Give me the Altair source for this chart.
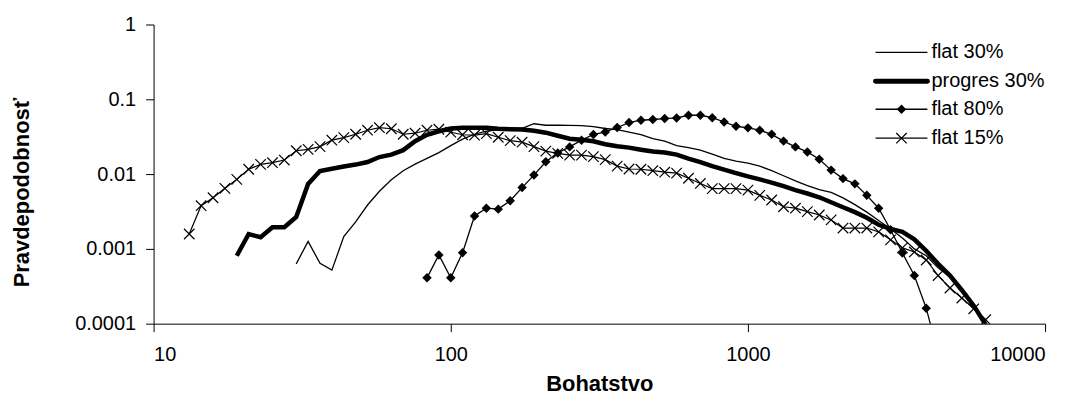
import altair as alt
import pandas as pd

# Wealth bins (x axis, log scale)
wealth = [13.18, 14.45, 15.85, 17.38, 19.05, 20.89, 22.91, 25.12, 27.54, 30.20,
          33.11, 36.31, 39.81, 43.65, 47.86, 52.48, 57.54, 63.10, 69.18, 75.86,
          83.18, 91.20, 100.0, 109.6, 120.2, 131.8, 144.5, 158.5, 173.8, 190.5,
          208.9, 229.1, 251.2, 275.4, 302.0, 331.1, 363.1, 398.1, 436.5, 478.6,
          524.8, 575.4, 631.0, 691.8, 758.6, 831.8, 912.0, 1000, 1096, 1202,
          1318, 1445, 1585, 1738, 1905, 2089, 2291, 2512, 2754, 3020,
          3311, 3631, 3981, 4365, 4786, 5248, 5754, 6310]

flat30_start = 9
flat30 = [0.00063, 0.00126, 0.00064, 0.00052, 0.00146, 0.0023, 0.00386, 0.0059, 0.0084, 0.0111,
          0.0136, 0.0162, 0.0194, 0.024, 0.0293, 0.0341, 0.0374, 0.0394, 0.0407, 0.041,
          0.0471, 0.045, 0.045, 0.0447, 0.0445, 0.043, 0.0407, 0.0392, 0.0363, 0.0336,
          0.0297, 0.0275, 0.024, 0.0226, 0.0209, 0.0185, 0.0162, 0.0149, 0.014, 0.0128,
          0.0111, 0.0095, 0.0081, 0.007, 0.0062, 0.0057, 0.0048, 0.0039, 0.0031, 0.0024,
          0.00185, 0.0014, 0.001, 0.00081, 0.00056, 0.00042, 0.00027, 0.000163, 0.000097]

progres30_start = 4
progres30 = [0.00081, 0.00158, 0.00143, 0.00195, 0.00195, 0.00267,
             0.0074, 0.011, 0.0118, 0.0126, 0.0134, 0.0145, 0.0169, 0.0182, 0.0209, 0.0275,
             0.0336, 0.0374, 0.0407, 0.0417, 0.0417, 0.0415, 0.0404, 0.0398, 0.0395, 0.038,
             0.0358, 0.0326, 0.0297, 0.0288, 0.0275, 0.0251, 0.0236, 0.0226, 0.0212, 0.02,
             0.0194, 0.0182, 0.0161, 0.0145, 0.0128, 0.0115, 0.0103, 0.0093, 0.0085, 0.0077,
             0.0069, 0.0061, 0.0055, 0.0049, 0.0042, 0.0036, 0.0031, 0.0026, 0.0021, 0.00185,
             0.00169, 0.00134, 0.00094, 0.00063, 0.00044, 0.00028, 0.000174, 0.000097]

flat80_start = 20
flat80 = [0.00041, 0.00083, 0.00041, 0.00089, 0.00275, 0.0035, 0.0034, 0.0044, 0.0066, 0.0097,
          0.0146, 0.0192, 0.0231, 0.0284, 0.0338, 0.0366, 0.042, 0.0489, 0.0525, 0.0537,
          0.0552, 0.0563, 0.0612, 0.0612, 0.0567, 0.0497, 0.0436, 0.0415, 0.0386, 0.034,
          0.0276, 0.0231, 0.0198, 0.0158, 0.0113, 0.0087, 0.0074, 0.0052, 0.0035, 0.0018,
          0.00088, 0.00044, 0.000161, 0.00004]

flat15_start = 0
flat15 = [0.00158, 0.00378, 0.00483, 0.00645, 0.0085, 0.0116, 0.0135, 0.0142, 0.0154, 0.0205,
          0.0214, 0.0233, 0.0284, 0.0307, 0.0341, 0.0386, 0.0417, 0.0404, 0.0341, 0.0352,
          0.0386, 0.0398, 0.0363, 0.0336, 0.0331, 0.0347, 0.0311, 0.028, 0.0267, 0.0233,
          0.0203, 0.0189, 0.0179, 0.0179, 0.0171, 0.0156, 0.0128, 0.0117, 0.0116, 0.0111,
          0.0106, 0.0103, 0.0088, 0.0075, 0.0064, 0.0064, 0.0064, 0.0061, 0.0052, 0.0045,
          0.00366, 0.0035, 0.00315, 0.00284, 0.00244, 0.0019, 0.0019, 0.0019, 0.00169, 0.00132,
          0.00103, 0.00091, 0.00071, 0.00044, 0.0003, 0.00022, 0.000158, 0.000113]

series_names = ["flat 30%", "progres 30%", "flat 80%", "flat 15%"]
x_ticks = [10, 100, 1000, 10000]
y_ticks = [0.0001, 0.001, 0.01, 0.1, 1]

rows = []
for name, start, vals in [(series_names[0], flat30_start, flat30),
                          (series_names[1], progres30_start, progres30),
                          (series_names[2], flat80_start, flat80),
                          (series_names[3], flat15_start, flat15)]:
    for i, v in enumerate(vals):
        rows.append({"series": name, "x": wealth[start + i], "y": v, "ord": i})
df = pd.DataFrame(rows)

FONT = "Liberation Sans"

xenc = alt.X("x:Q",
             scale=alt.Scale(type="log", domain=[10, 10000], nice=False),
             axis=alt.Axis(title="Bohatstvo", values=x_ticks, format="d",
                           labelFontSize=20, labelPadding=13, tickSize=8,
                           titleFontSize=22, titleFontWeight="bold",
                           titleY=60, titleBaseline="middle"))
yenc = alt.Y("y:Q",
             scale=alt.Scale(type="log", domain=[0.0001, 1], nice=False),
             axis=alt.Axis(title="Pravdepodobnosť", values=y_ticks, format="~g",
                           labelFontSize=20, labelPadding=10, tickSize=8,
                           titleFontSize=22, titleFontWeight="bold",
                           titleX=-132, titleY=168, titleAngle=270,
                           titleAlign="center", titleBaseline="middle"))

base = alt.Chart(df)

def sel(name):
    return base.transform_filter(alt.datum.series == name)

xpath = "M-1,-1L1,1M-1,1L1,-1"

l_flat30 = sel("flat 30%").mark_line(color="black", strokeWidth=1.3, clip=True).encode(x=xenc, y=yenc, order="ord:Q")
l_prog = sel("progres 30%").mark_line(color="black", strokeWidth=4.5, clip=True).encode(x=xenc, y=yenc, order="ord:Q")
l_flat80 = sel("flat 80%").mark_line(color="black", strokeWidth=1.3, clip=True).encode(x=xenc, y=yenc, order="ord:Q")
p_flat80 = sel("flat 80%").mark_point(shape="diamond", filled=True, color="black", size=90, opacity=1, clip=True).encode(x=xenc, y=yenc)
l_flat15 = sel("flat 15%").mark_line(color="black", strokeWidth=1.2, clip=True).encode(x=xenc, y=yenc, order="ord:Q")
p_flat15 = sel("flat 15%").mark_point(shape=xpath, filled=False, color="black", strokeWidth=1.2, size=110, opacity=1, clip=True).encode(x=xenc, y=yenc)

# Manual legend (Excel style: line + marker + label), positions in plot pixels
leg_df = pd.DataFrame({"label": series_names})
leg_rows_y = [28, 57, 85, 114]
leg_x0, leg_x1, leg_xm, leg_xt = 724, 776, 750, 780
leg_widths = [1.3, 5, 1.3, 1.3]

legend_layers = []
for name, yy, sw in zip(series_names, leg_rows_y, leg_widths):
    c = alt.Chart(leg_df).transform_filter(alt.datum.label == name)
    legend_layers.append(c.mark_rule(color="black", strokeWidth=sw, strokeCap="round" if sw > 2 else "butt").encode(
        x=alt.value(leg_x0), x2=alt.value(leg_x1), y=alt.value(yy)))
    if name == "flat 80%":
        legend_layers.append(c.mark_point(shape="diamond", filled=True, color="black", size=90, opacity=1).encode(
            x=alt.value(leg_xm), y=alt.value(yy)))
    if name == "flat 15%":
        legend_layers.append(c.mark_point(shape=xpath, filled=False, color="black", strokeWidth=1.2, size=110, opacity=1).encode(
            x=alt.value(leg_xm), y=alt.value(yy)))
    legend_layers.append(c.mark_text(align="left", baseline="middle", font=FONT, fontSize=20, color="black").encode(
        x=alt.value(leg_xt), y=alt.value(yy), text="label:N"))

chart = alt.layer(l_flat30, l_prog, l_flat80, p_flat80, l_flat15, p_flat15, *legend_layers).properties(
    width=894, height=300,
    autosize=alt.AutoSizeParams(type="none"),
    padding={"left": 146, "top": 16, "right": 30, "bottom": 80},
    background="white",
).configure_view(stroke=None).configure_axis(
    grid=False, domainColor="black", tickColor="black", labelColor="black", titleColor="black",
    labelFont=FONT, titleFont=FONT, domainWidth=1, tickWidth=1,
)

chart.save("out.html", embed_options={"renderer": "svg", "actions": False})
